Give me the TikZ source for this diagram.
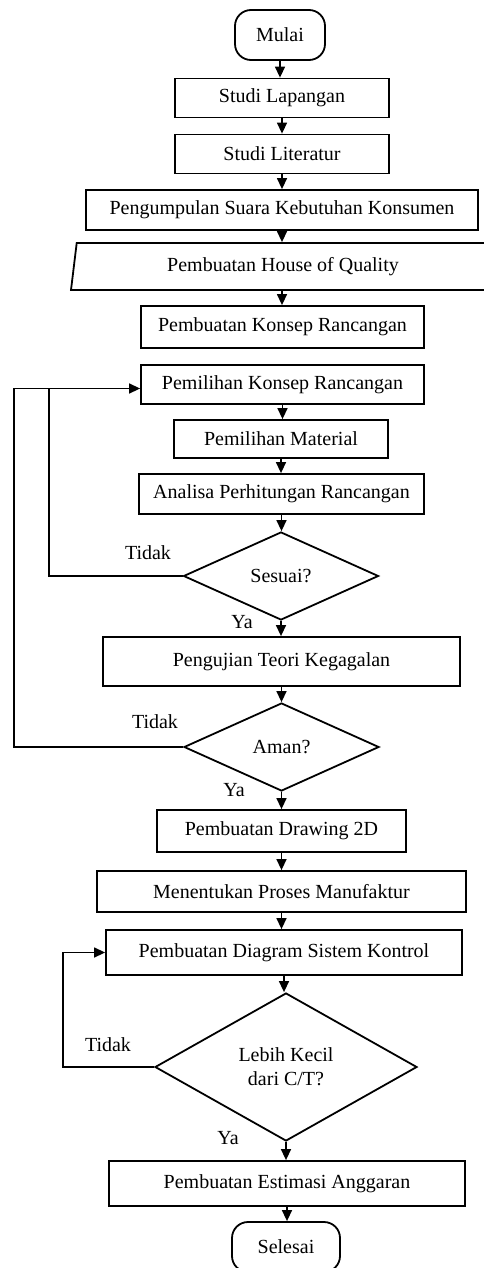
\documentclass[tikz,border=0pt]{standalone}
\usepackage{fontspec}
\setmainfont{Liberation Serif}
\usetikzlibrary{shapes.geometric,arrows.meta,positioning}
\tikzset{
  every picture/.style={line width=1.4pt},
  fBox/.style={draw, rectangle, line width=1.8pt, inner sep=2pt, font=\fontsize{20}{24}\selectfont},
  fTerm/.style={fBox, rounded corners=16pt, minimum height=50pt},
  fData/.style={draw, trapezium, trapezium left angle=75.7, trapezium right angle=104.3,
                trapezium stretches body, line width=1.8pt, inner sep=2pt, font=\fontsize{20}{24}\selectfont},
  fDec/.style={draw, diamond, line width=1.8pt, inner sep=0pt, align=center, font=\fontsize{20}{24}\selectfont},
  fFlow/.style={-{Triangle[width=10pt,length=11pt]}},
  fLabel/.style={font=\fontsize{20}{24}\selectfont},
}

\begin{document}
\begin{tikzpicture}[x=1pt, y=-1pt]
  \useasboundingbox (0,0) rectangle (484,1268);
  % main column
  \node[fTerm, minimum width=90pt] (M) at (280,35) {Mulai};
  \node[fBox, minimum width=214pt, minimum height=39pt] (SL) at (282,98) {Studi Lapangan};
  \node[fBox, minimum width=214pt, minimum height=39pt] (SLit) at (282,154) {Studi Literatur};
  \node[fBox, minimum width=392pt, minimum height=40pt] (PS) at (282,210) {Pengumpulan Suara Kebutuhan Konsumen};
  \node[fData, minimum width=424pt, minimum height=47pt] (HoQ) at (283,266.5) {Pembuatan House of Quality};
  \node[fBox, minimum width=283pt, minimum height=42pt] (KR) at (282.5,327) {Pembuatan Konsep Rancangan};
  \node[fBox, minimum width=283pt, minimum height=39pt] (PKR) at (282.5,384.5) {Pemilihan Konsep Rancangan};
  \node[fBox, minimum width=214pt, minimum height=38pt] (PM) at (281,439) {Pemilihan Material};
  \node[fBox, minimum width=285pt, minimum height=40pt] (AP) at (281.5,494) {Analisa Perhitungan Rancangan};
  \node[fDec, minimum width=195pt, minimum height=88pt] (D1) at (281,576) {Sesuai?};
  \node[fBox, minimum width=357pt, minimum height=49pt] (PT) at (281.5,661.5) {Pengujian Teori Kegagalan};
  \node[fDec, minimum width=195pt, minimum height=88pt] (D2) at (281.5,747) {Aman?};
  \node[fBox, minimum width=249pt, minimum height=42pt] (PD) at (281.5,831) {Pembuatan Drawing 2D};
  \node[fBox, minimum width=369pt, minimum height=41pt] (MP) at (281.5,891.5) {Menentukan Proses Manufaktur};
  \node[fBox, minimum width=356pt, minimum height=45pt] (PDS) at (284,952.5) {Pembuatan Diagram Sistem Kontrol};
  \node[fDec, minimum width=262pt, minimum height=148pt] (D3) at (286,1067) {Lebih Kecil\\dari C/T?};
  \node[fBox, minimum width=356pt, minimum height=45pt] (PE) at (287,1183.5) {Pembuatan Estimasi Anggaran};
  \node[fTerm, minimum width=108pt] (S) at (286,1247) {Selesai};
  % branch labels
  \node[fLabel] (t1) at (148,553) {Tidak};
  \node[fLabel] (y1) at (242,622) {Ya};
  \node[fLabel] (t2) at (155,722) {Tidak};
  \node[fLabel] (y2) at (234,790) {Ya};
  \node[fLabel] (t3) at (108,1045) {Tidak};
  \node[fLabel] (y3) at (228,1138) {Ya};
  % loop corners
  \coordinate (jn) at (49,0);
  \coordinate (jo) at (14,0);
  \coordinate (jk) at (63,0);
  % arrows
  \draw[fFlow] (M.south) -- (M.south |- SL.north);
  \draw[fFlow] (SL.south) -- (SLit.north);
  \draw[fFlow] (SLit.south) -- (PS.north);
  \draw[fFlow] (PS.south) -- (PS.south |- HoQ.north);
  \draw[fFlow] (PS.south |- HoQ.south) -- (PS.south |- KR.north);
  \draw[fFlow] (PKR.south) -- (PKR.south |- PM.north);
  \draw[fFlow] (PM.south) -- (PM.south |- AP.north);
  \draw[fFlow] (AP.south) -- (AP.south |- D1.north);
  \draw[fFlow] (D1.south) -- (D1.south |- PT.north);
  \draw[fFlow] (PT.south) -- (PT.south |- D2.north);
  \draw[fFlow] (D2.south) -- (D2.south |- PD.north);
  \draw[fFlow] (PD.south) -- (PD.south |- MP.north);
  \draw[fFlow] (MP.south) -- (MP.south |- PDS.north);
  \draw[fFlow] (PDS.south) -- (PDS.south |- D3.north);
  \draw[fFlow] (D3.south) -- (D3.south |- PE.north);
  \draw[fFlow] (PE.south) -- (PE.south |- S.north);
  % feedback loops
  \draw[fFlow] (D1.west) -- (D1.west -| jn) |- ([yshift=-4pt]PKR.west);
  \draw (D2.west) -- (D2.west -| jo) |- ([yshift=-4pt]PKR.west -| jn);
  \draw[fFlow] (D3.west) -- (D3.west -| jk) |- (PDS.west);
\end{tikzpicture}
\end{document}
